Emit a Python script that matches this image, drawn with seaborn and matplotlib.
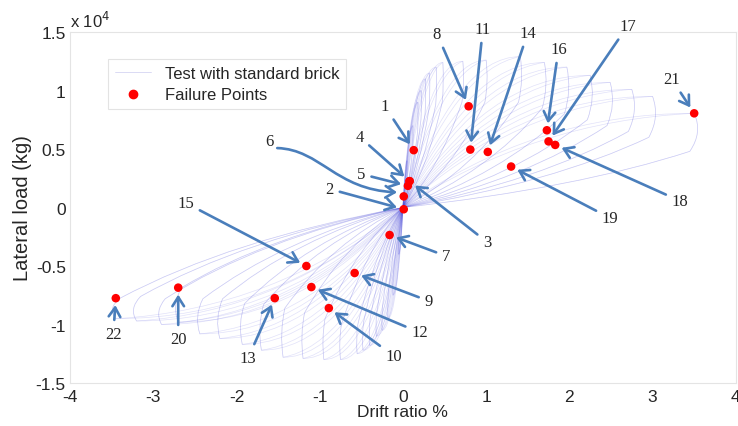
import matplotlib
matplotlib.use("Agg")
import matplotlib.pyplot as plt
import seaborn as sns
import pandas as pd
from matplotlib.path import Path
from matplotlib.patches import PathPatch, FancyArrowPatch
from matplotlib.lines import Line2D

# Failure points: number, drift ratio (%), lateral load (kg)
fail_id = list(range(1, 23))
fail_drift = [0.13, 0.01, 0.08, 0.08, 0.06, 0.01, -0.16, 0.79, -0.58, -0.89, 0.81,
              -1.10, -1.54, 1.02, -1.16, 1.73, 1.75, 1.83, 1.30, -2.70, 3.50, -3.45]
fail_load = [4900, -150, 2250, 2250, 1850, 950, -2350, 8650, -5600, -8600, 4950,
             -6800, -7750, 4750, -5000, 6600, 5650, 5350, 3500, -6850, 8050, -7750]

# Where each number is written (drift, load)
label_x = [-0.22, -0.88, 1.01, -0.52, -0.50, -1.60, 0.52, 0.41, 0.31, -0.11, 0.96,
           0.20, -1.86, 1.50, -2.61, 1.87, 2.70, 3.33, 2.49, -2.70, 3.23, -3.48]
label_y = [8680, 1580, -2950, 6030, 2860, 5680, -4150, 14830, -7990, -12690, 15260,
           -10680, -12860, 14920, 390, 13550, 15510, 560, -900, -11240, 10980, -10810]

# Hysteresis cycles: drift at the loop end, and the load at the outer and
# inner ends of the loop's end arc
pos_end_drift = [0.05, 0.12, 0.18, 0.22, 0.27, 0.32, 0.40, 0.48, 0.72, 1.00, 1.41,
                 1.70, 1.97, 2.25, 2.49, 2.75, 3.00, 3.50]
pos_outer_load = [4000, 7000, 9000, 10000, 11000, 11500, 12000, 12400, 12500, 12600, 12900,
                  12400, 12000, 11300, 10700, 10100, 9500, 8050]
pos_inner_load = [2500, 5000, 6500, 7500, 8000, 8500, 8800, 9000, 9000, 9000, 9000,
                  8500, 8000, 7500, 7000, 6500, 6000, 4800]
neg_end_drift = [-0.05, -0.12, -0.18, -0.25, -0.32, -0.40, -0.48, -0.55, -0.75, -0.95,
                 -1.20, -1.44, -1.70, -1.93, -2.20, -2.44, -2.70, -2.90, -3.20, -3.45]
neg_outer_load = [-4000, -7500, -9500, -10500, -11000, -11800, -12200, -12500, -13000, -13000,
                  -12900, -12800, -12200, -11700, -11200, -10800, -9800, -10000, -9700, -9500]
neg_inner_load = [-2500, -6000, -7500, -8500, -9000, -9500, -9800, -10000, -10000, -9500,
                  -9000, -8600, -8300, -8200, -7800, -7800, -6850, -7800, -7600, -7750]

x_ticks = [-4, -3, -2, -1, 0, 1, 2, 3, 4]
y_ticks = [-15000, -10000, -5000, 0, 5000, 10000, 15000]
y_tick_labels = ["-1.5", "-1", "-0.5", "0", "0.5", "1", "1.5"]

sns.set_style("white")
plt.rcParams["font.family"] = ["Liberation Sans", "DejaVu Sans"]

fig = plt.figure(figsize=(7.38, 4.27), dpi=100)
ax = fig.add_axes([0.0949, 0.1007, 0.9021, 0.822])

loop_color = "#4848dc"
codes = [Path.MOVETO, Path.CURVE3, Path.CURVE3, Path.CURVE3, Path.CURVE3,
         Path.CURVE3, Path.CURVE3]


def draw_cycle(x, outer, inner, k):
    """Origin -> outer end of the loop -> end arc -> inner end -> origin."""
    xi = x * 0.985
    verts = [(0, 0),
             (0.45 * x, k * outer), (x, outer),
             (x * 1.03, 0.5 * (outer + inner)), (xi, inner),
             (0.6 * x, 0.35 * inner), (0, 0)]
    ax.add_patch(PathPatch(Path(verts, codes), fill=False, edgecolor=loop_color,
                           lw=0.5, alpha=0.16))


cycles = list(zip(pos_end_drift, pos_outer_load, pos_inner_load)) + \
    list(zip(neg_end_drift, neg_outer_load, neg_inner_load))
for x, o, i in cycles:
    for k in (0.92, 1.0):
        draw_cycle(x, o, i, k)

df = pd.DataFrame({"id": fail_id, "drift": fail_drift, "load": fail_load})
sns.scatterplot(data=df, x="drift", y="load", color="#ff0000", s=38,
                edgecolor="none", zorder=5, ax=ax, legend=False)

arrow_color = "#4a7ebb"
arrow_style = "->,head_length=0.6,head_width=0.38"
label_font = dict(family=["Liberation Serif", "DejaVu Serif"], size=12)
for i, x, y, lx, ly in zip(fail_id, fail_drift, fail_load, label_x, label_y):
    if i == 6:
        ax.text(lx, ly, str(i), ha="center", va="center", **label_font)
        continue
    ax.annotate(str(i), xy=(x, y), xytext=(lx, ly), ha="center", va="center",
                **label_font,
                arrowprops=dict(arrowstyle=arrow_style, color=arrow_color, lw=1.9,
                                shrinkA=2, shrinkB=5, mutation_scale=11),
                zorder=6)

# Curved pointer for failure point 6
curve = Path([(-1.51, 5080), (-0.99, 4960), (-0.81, 1520), (-0.07, 1300)],
             [Path.MOVETO, Path.CURVE4, Path.CURVE4, Path.CURVE4])
ax.add_patch(FancyArrowPatch(path=curve, arrowstyle=arrow_style,
                             mutation_scale=11, color=arrow_color, lw=1.9, zorder=6))

ax.set_xlim(-4, 4)
ax.set_ylim(-15000, 15000)
ax.set_xticks(x_ticks)
ax.set_xticklabels([str(t) for t in x_ticks])
ax.set_yticks(y_ticks)
ax.set_yticklabels(y_tick_labels)
ax.tick_params(direction="in", length=3, color="#dddddd", labelsize=12.5)
ax.tick_params(axis="x", pad=4)
ax.tick_params(axis="y", pad=3)
for s in ax.spines.values():
    s.set_color("#e4e4e4")
    s.set_linewidth(0.8)

ax.set_xlabel("Drift ratio %", fontsize=12.5, labelpad=0)
ax.set_ylabel("Lateral load (kg)", fontsize=14.5, labelpad=3)
ax.text(0.0, 1.005, "x 10$^4$", transform=ax.transAxes, ha="left", va="bottom", fontsize=12)

handles = [Line2D([], [], color="#d4d4f2", lw=0.6),
           Line2D([], [], color="#ff0000", marker="o", ls="none", markersize=6)]
leg = ax.legend(handles, ["Test with standard brick", "Failure Points"],
                loc="upper left", bbox_to_anchor=(0.057, 0.923), fontsize=12,
                fancybox=False, frameon=True, borderpad=0.4, handlelength=2.2,
                labelspacing=0.4, borderaxespad=0)
leg.get_frame().set_edgecolor("#dddddd")
leg.get_frame().set_linewidth(0.8)

fig.savefig("out.png", dpi=100)
